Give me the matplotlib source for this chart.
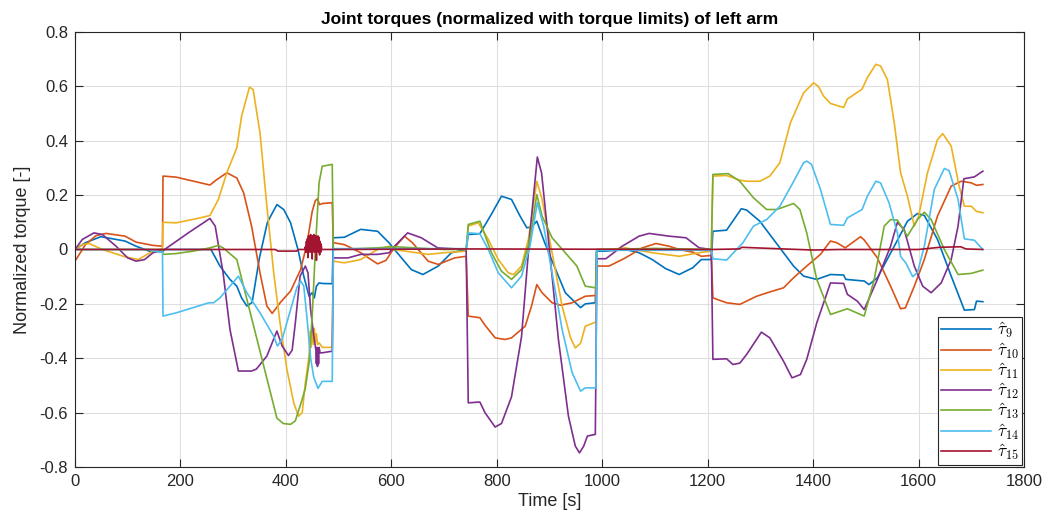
import matplotlib
matplotlib.use("Agg")
import matplotlib.pyplot as plt
from matplotlib.ticker import FuncFormatter

plt.rcParams['font.family'] = ['Liberation Sans', 'DejaVu Sans']
plt.rcParams['mathtext.fontset'] = 'cm'
plt.rcParams['axes.unicode_minus'] = False

TITLE = "Joint torques (normalized with torque limits) of left arm"
XLABEL = "Time [s]"
YLABEL = "Normalized torque [-]"
LABELS = [r"$\hat{\tau}_{9}$", r"$\hat{\tau}_{10}$", r"$\hat{\tau}_{11}$", r"$\hat{\tau}_{12}$",
          r"$\hat{\tau}_{13}$", r"$\hat{\tau}_{14}$", r"$\hat{\tau}_{15}$"]
COLORS = ["#0072BD", "#D95319", "#EDB120", "#7E2F8E", "#77AC30", "#4DBEEE", "#A2142F"]
XTICKS = [0, 200, 400, 600, 800, 1000, 1200, 1400, 1600, 1800]
YTICKS = [-0.8, -0.6, -0.4, -0.2, 0, 0.2, 0.4, 0.6, 0.8]

TAU9 = [(0, 0), (20, 0.025), (49, 0.047), (95, 0.031), (116, 0.012), (141, -0.006), (166, -0.009), (170, 0.0),
        (258, 0.0), (275, -0.061), (294, -0.110), (307, -0.135), (316, -0.178), (326, -0.208), (336, -0.195),
        (350, -0.03), (365, 0.10), (383, 0.165), (396, 0.147), (409, 0.098), (423, 0.0), (434, -0.098),
        (444, -0.172), (450, -0.159), (454, -0.178), (458, -0.135), (463, -0.123), (469, -0.125), (488, -0.126),
        (490, 0.043), (511, 0.045), (542, 0.074), (574, 0.067), (596, 0.024), (606, 0.0), (638, -0.074),
        (660, -0.092), (689, -0.061), (714, -0.012), (742, 0.0), (746, 0.055), (768, 0.058), (790, 0.13),
        (809, 0.196), (828, 0.184), (845, 0.12), (857, 0.080), (866, 0.082), (876, 0.104), (890, 0.03),
        (904, -0.037), (930, -0.159), (959, -0.214), (968, -0.200), (987, -0.196), (989, -0.006), (1006, -0.006),
        (1044, 0.0), (1070, -0.012), (1095, -0.037), (1120, -0.070), (1146, -0.092), (1172, -0.067),
        (1188, -0.037), (1207, -0.037), (1210, 0.067), (1236, 0.071), (1264, 0.150), (1274, 0.145),
        (1299, 0.104), (1337, 0.006), (1363, -0.061), (1382, -0.098), (1407, -0.110), (1433, -0.092),
        (1458, -0.094), (1462, -0.110), (1497, -0.116), (1506, -0.129), (1522, -0.104), (1554, 0.012),
        (1579, 0.104), (1598, 0.132), (1611, 0.125), (1636, 0.037), (1662, -0.098), (1687, -0.223),
        (1706, -0.221), (1710, -0.190), (1722, -0.192)]

TAU10 = [(0, -0.043), (20, 0.018), (40, 0.051), (59, 0.059), (95, 0.049), (116, 0.027), (148, 0.015),
         (166, 0.012), (167, 0.270), (192, 0.266), (256, 0.237), (269, 0.257), (288, 0.282), (307, 0.263),
         (320, 0.208), (335, 0.086), (351, -0.086), (364, -0.208), (374, -0.235), (382, -0.215), (389, -0.196),
         (409, -0.153), (428, -0.074), (440, 0.02), (450, 0.14), (456, 0.180), (460, 0.186), (464, 0.165),
         (469, 0.169), (488, 0.172), (490, 0.025), (511, 0.018), (542, -0.012), (574, -0.053), (590, -0.04),
         (600, -0.01), (612, 0.02), (625, 0.049), (640, 0.025), (670, -0.043), (689, -0.055), (720, -0.031),
         (742, -0.025), (746, -0.245), (768, -0.251), (778, -0.279), (797, -0.325), (816, -0.331),
         (828, -0.325), (854, -0.282), (866, -0.208), (876, -0.129), (886, -0.159), (905, -0.196),
         (921, -0.205), (943, -0.196), (968, -0.172), (988, -0.169), (990, -0.061), (1013, -0.061),
         (1044, -0.031), (1076, 0.006), (1102, 0.022), (1127, 0.012), (1146, 0.0), (1172, -0.010),
         (1188, -0.025), (1207, -0.022), (1210, -0.178), (1236, -0.196), (1261, -0.202), (1293, -0.172),
         (1318, -0.156), (1344, -0.141), (1363, -0.104), (1388, -0.061), (1414, -0.018), (1433, 0.031),
         (1445, 0.025), (1461, 0.006), (1490, 0.047), (1497, 0.035), (1522, -0.031), (1547, -0.135),
         (1566, -0.218), (1575, -0.215), (1592, -0.135), (1611, -0.037), (1636, 0.123), (1662, 0.233),
         (1681, 0.251), (1700, 0.245), (1710, 0.236), (1722, 0.239)]

TAU11 = [(0, 0), (14, 0.018), (27, 0.022), (52, 0.0), (95, -0.027), (120, -0.037), (129, -0.027),
         (148, -0.006), (166, 0.002), (167, 0.10), (192, 0.098), (237, 0.116), (256, 0.125), (272, 0.184),
         (288, 0.282), (307, 0.374), (316, 0.490), (331, 0.597), (338, 0.588), (351, 0.429), (364, 0.159),
         (377, -0.086), (389, -0.270), (402, -0.441), (415, -0.564), (424, -0.613), (431, -0.600),
         (437, -0.490), (444, -0.392), (446, -0.30), (448, -0.36), (450, -0.28), (452, -0.35), (454, -0.29),
         (456, -0.34), (458, -0.31), (460, -0.35), (463, -0.343), (469, -0.36), (488, -0.36), (490, -0.043),
         (511, -0.049), (542, -0.037), (574, 0.0), (596, 0.012), (606, 0.0), (640, -0.01), (670, -0.018),
         (700, -0.012), (742, -0.006), (746, 0.086), (765, 0.098), (784, 0.037), (803, -0.037), (822, -0.086),
         (832, -0.092), (847, -0.061), (860, 0.037), (876, 0.251), (886, 0.184), (905, -0.012), (924, -0.208),
         (940, -0.325), (949, -0.362), (959, -0.345), (968, -0.282), (988, -0.267), (990, 0.0), (1013, 0.0),
         (1044, 0.006), (1095, -0.012), (1146, -0.025), (1184, -0.012), (1207, -0.006), (1210, 0.270),
         (1236, 0.272), (1261, 0.255), (1274, 0.251), (1299, 0.251), (1318, 0.270), (1337, 0.319),
         (1357, 0.466), (1382, 0.576), (1401, 0.613), (1410, 0.60), (1420, 0.564), (1433, 0.537),
         (1458, 0.522), (1465, 0.553), (1493, 0.590), (1503, 0.632), (1519, 0.681), (1528, 0.675),
         (1541, 0.625), (1554, 0.466), (1566, 0.282), (1579, 0.196), (1592, 0.086), (1600, 0.12),
         (1617, 0.282), (1636, 0.404), (1646, 0.426), (1662, 0.380), (1677, 0.233), (1687, 0.159),
         (1700, 0.159), (1710, 0.140), (1722, 0.135)]

TAU12 = [(0, 0), (14, 0.037), (36, 0.061), (52, 0.055), (78, 0.012), (100, -0.031), (116, -0.043),
         (132, -0.037), (148, -0.012), (164, -0.002), (170, 0.0), (218, 0.065), (256, 0.114), (266, 0.086),
         (281, -0.086), (294, -0.294), (310, -0.447), (335, -0.447), (344, -0.440), (364, -0.392),
         (383, -0.300), (393, -0.355), (405, -0.390), (412, -0.37), (418, -0.270), (427, -0.098),
         (437, -0.061), (442, -0.086), (447, -0.221), (453, -0.319), (457, -0.37), (458, -0.42), (459, -0.36),
         (460, -0.43), (461, -0.37), (462, -0.42), (463, -0.36), (465, -0.38), (469, -0.38), (488, -0.374),
         (490, -0.031), (518, -0.031), (542, -0.018), (574, -0.018), (596, -0.012), (606, 0.012),
         (631, 0.061), (657, 0.043), (688, 0.006), (742, 0.0), (746, -0.564), (768, -0.561), (778, -0.601),
         (797, -0.653), (809, -0.640), (828, -0.542), (847, -0.321), (863, 0.061), (877, 0.340), (885, 0.282),
         (898, 0.037), (917, -0.331), (936, -0.613), (949, -0.723), (957, -0.748), (965, -0.723),
         (972, -0.686), (987, -0.680), (990, -0.034), (1007, -0.034), (1038, 0.012), (1070, 0.049),
         (1089, 0.059), (1127, 0.049), (1159, 0.043), (1184, 0.006), (1207, 0.0), (1210, -0.404),
         (1236, -0.402), (1248, -0.423), (1261, -0.418), (1274, -0.386), (1302, -0.304), (1318, -0.325),
         (1344, -0.411), (1360, -0.472), (1376, -0.460), (1388, -0.404), (1407, -0.270), (1433, -0.123),
         (1458, -0.125), (1465, -0.165), (1484, -0.190), (1497, -0.221), (1522, -0.110), (1547, 0.012),
         (1560, 0.100), (1573, 0.072), (1592, -0.061), (1608, -0.135), (1624, -0.159), (1643, -0.123),
         (1662, -0.037), (1675, 0.086), (1686, 0.260), (1706, 0.267), (1722, 0.288)]

TAU13 = [(0, 0), (166, 0.0), (167, -0.018), (192, -0.015), (224, -0.006), (256, 0.006), (272, 0.015),
         (281, 0.006), (307, -0.037), (383, -0.620), (395, -0.640), (409, -0.643), (418, -0.630),
         (431, -0.551), (437, -0.51), (444, -0.417), (450, -0.245), (456, 0.0), (463, 0.245), (469, 0.306),
         (488, 0.313), (490, 0.0), (574, 0.006), (606, 0.01), (700, 0.0), (742, 0.0), (746, 0.092),
         (768, 0.104), (790, -0.012), (809, -0.080), (828, -0.110), (847, -0.074), (863, 0.037), (876, 0.202),
         (886, 0.123), (905, 0.043), (930, -0.012), (952, -0.061), (968, -0.135), (988, -0.141), (990, 0.0),
         (1100, 0.004), (1207, 0.0), (1210, 0.276), (1239, 0.279), (1261, 0.251), (1287, 0.190),
         (1312, 0.147), (1331, 0.147), (1363, 0.169), (1375, 0.147), (1388, 0.061), (1407, -0.110),
         (1433, -0.239), (1465, -0.218), (1497, -0.245), (1516, -0.110), (1535, 0.086), (1547, 0.110),
         (1560, 0.108), (1579, 0.049), (1598, 0.110), (1611, 0.137), (1624, 0.110), (1649, 0.0),
         (1675, -0.092), (1700, -0.088), (1722, -0.076)]

TAU14 = [(0, 0), (141, 0.0), (150, -0.006), (166, -0.009), (167, -0.245), (192, -0.233), (224, -0.214),
         (254, -0.196), (263, -0.196), (275, -0.178), (294, -0.135), (310, -0.098), (326, -0.159),
         (351, -0.233), (377, -0.319), (384, -0.355), (393, -0.330), (409, -0.221), (421, -0.140),
         (428, -0.116), (434, -0.135), (440, -0.25), (447, -0.40), (453, -0.47), (461, -0.511), (469, -0.485),
         (488, -0.485), (490, 0.003), (742, 0.003), (746, 0.061), (768, 0.058), (784, 0.0), (803, -0.086),
         (828, -0.141), (847, -0.098), (863, 0.012), (877, 0.172), (889, 0.086), (905, -0.086), (924, -0.294),
         (943, -0.453), (959, -0.521), (968, -0.509), (988, -0.509), (990, -0.003), (1207, -0.003),
         (1210, -0.034), (1236, -0.039), (1267, 0.025), (1287, 0.086), (1312, 0.110), (1337, 0.159),
         (1360, 0.239), (1382, 0.319), (1388, 0.325), (1397, 0.313), (1414, 0.221), (1433, 0.092),
         (1458, 0.089), (1465, 0.116), (1493, 0.147), (1503, 0.196), (1519, 0.251), (1528, 0.245),
         (1544, 0.172), (1560, 0.061), (1566, -0.025), (1576, -0.050), (1589, -0.100), (1598, -0.085),
         (1611, 0.012), (1630, 0.221), (1649, 0.298), (1658, 0.290), (1675, 0.184), (1687, 0.039),
         (1706, 0.034), (1722, 0.0)]

TAU15 = [(0, 0), (380, 0.0), (385, -0.006), (420, -0.006), (425, 0.0), (436, 0.0),
         (437, 0.01), (438, -0.01), (439, 0.03), (440, -0.01), (441, 0.04), (442, -0.03), (443, 0.05),
         (444, -0.005), (445, 0.05), (446, -0.01), (447, 0.055), (448, -0.005), (449, 0.05), (450, -0.035),
         (451, 0.05), (452, -0.005), (453, 0.055), (454, -0.01), (455, 0.05), (456, -0.005), (457, 0.05),
         (458, -0.04), (459, 0.045), (460, -0.005), (461, 0.05), (462, -0.01), (463, 0.045), (464, -0.02),
         (465, 0.03), (466, -0.01), (467, 0.02), (468, 0.0), (490, 0.0), (742, 0.002), (1207, 0.0),
         (1260, 0.002), (1265, 0.008), (1330, 0.003), (1400, -0.002), (1450, 0.0), (1600, 0.0),
         (1640, 0.008), (1680, 0.010), (1690, 0.002), (1722, 0.0)]

SERIES = [TAU9, TAU10, TAU11, TAU12, TAU13, TAU14, TAU15]

fig = plt.figure(figsize=(10.44, 5.28), dpi=100)
ax = fig.add_axes([0.0718, 0.1155, 0.909, 0.824])

for data, color, label in zip(SERIES, COLORS, LABELS):
    t, v = zip(*data)
    ax.plot(t, v, color=color, lw=1.2, label=label)

ax.set_xlim(0, 1800)
ax.set_ylim(-0.8, 0.8)
ax.set_xticks(XTICKS)
ax.set_yticks(YTICKS)
ax.yaxis.set_major_formatter(FuncFormatter(lambda y, p: "%g" % round(y, 2)))
ax.grid(True, color="#dfdfdf", lw=0.8)
ax.set_axisbelow(True)
for s in ax.spines.values():
    s.set_color("#262626")
    s.set_linewidth(0.8)
ax.tick_params(direction="in", length=6, width=0.8, color="#262626", labelcolor="#262626",
               labelsize=12, top=True, right=True, pad=5)

ax.set_title(TITLE, fontsize=12.5, fontweight="bold", color="black", pad=6)
ax.set_xlabel(XLABEL, fontsize=13, color="#262626", labelpad=3)
ax.set_ylabel(YLABEL, fontsize=13, color="#262626", labelpad=6)

leg = ax.legend(loc="lower right", fontsize=12.5, handlelength=2.9, borderaxespad=0.1,
                fancybox=False, framealpha=1, edgecolor="#262626", labelspacing=0.02,
                borderpad=0.2, handletextpad=0.3)
leg.get_frame().set_linewidth(0.8)

fig.savefig("out.png", dpi=100)
